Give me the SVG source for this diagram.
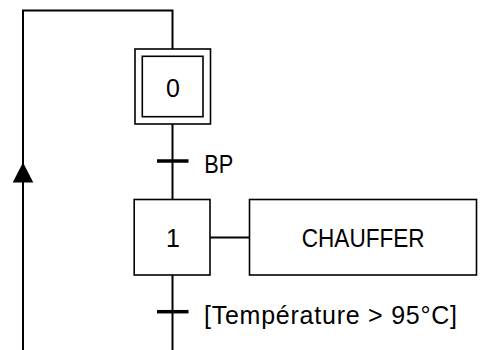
<svg xmlns="http://www.w3.org/2000/svg" width="485" height="350" viewBox="0 0 485 350">
<defs>
<style>
.box{fill:#fff;stroke:#000;stroke-width:1.6}
.ln{fill:none;stroke:#000;stroke-width:2}
.tick{stroke:#000;stroke-width:3.5}
.t{font-family:"Liberation Sans",Arial,sans-serif;font-size:25px;fill:#000}
</style>
</defs>
<rect width="485" height="350" fill="#fff"/>
<g id="connectors">
<path class="ln" d="M23,350 V10.5 H172.5 V49"/>
<path d="M23,162.5 L33.3,182.5 L12.7,182.5 Z" fill="#000"/>
<path class="ln" d="M172.5,124 V199.5"/>
<path class="ln" d="M172.5,275 V350"/>
<path class="ln" d="M210,237.5 H249.5"/>
<line class="tick" x1="157" y1="161" x2="188.5" y2="161"/>
<line class="tick" x1="157" y1="311.7" x2="188.5" y2="311.7"/>
<text class="t" x="204.3" y="173" textLength="29" lengthAdjust="spacingAndGlyphs">BP</text>
<text class="t" x="204" y="323.5" textLength="253" lengthAdjust="spacing">[Température &gt; 95°C]</text>
</g>
<g id="step0">
<rect class="box" x="135" y="49" width="75.5" height="75"/>
<rect class="box" x="142.3" y="56.3" width="60.7" height="60.4"/>
<text class="t" x="173" y="96.7" text-anchor="middle">0</text>
</g>
<g id="step1">
<rect class="box" x="134.2" y="199.5" width="75.8" height="75.5"/>
<text class="t" x="173" y="246.7" text-anchor="middle">1</text>
</g>
<g id="action1">
<rect class="box" x="249.5" y="199.5" width="227" height="75.5"/>
<text class="t" x="301.7" y="246.7" textLength="123" lengthAdjust="spacingAndGlyphs">CHAUFFER</text>
</g>
</svg>
